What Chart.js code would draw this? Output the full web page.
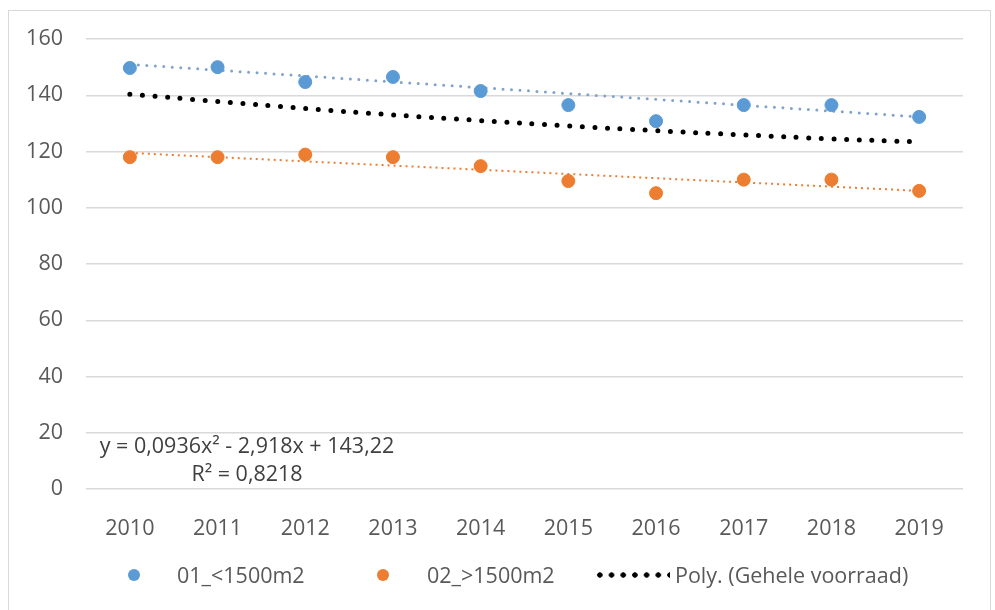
<!DOCTYPE html>
<html>
<head>
<meta charset="utf-8">
<script src="https://cdn.jsdelivr.net/npm/chart.js@4.4.1/dist/chart.umd.min.js"></script>
<style>
  html, body { margin: 0; padding: 0; background: #fff; }
  #wrap { position: relative; width: 995px; height: 610px; overflow: hidden; font-family: "Open Sans", sans-serif; }
  #frame { position: absolute; left: 8px; top: 10px; width: 981px; height: 640px; border: 1px solid #d9d9d9; }
  #myChart { position: absolute; left: 0; top: 0; }
  #legend { position: absolute; top: 561px; left: 0; height: 28px; font-size: 21.5px; color: #595959; }
  .item { position: absolute; top: 0; white-space: nowrap; line-height: 28px; }
  .dot { position: absolute; top: 8px; width: 12px; height: 12px; border-radius: 50%; }
  .poly { position: absolute; top: 11px; width: 76px; height: 6px;
          background: radial-gradient(circle, #000 2.4px, transparent 3px) repeat-x;
          background-size: 11.7px 6px; }
</style>
</head>
<body>
<div id="wrap">
  <div id="frame"></div>
  <canvas id="myChart" width="995" height="610"></canvas>
  <div id="legend">
    <div class="item" style="left:128px"><span class="dot" style="background:#5b9bd5"></span><span style="margin-left:49px">01_&lt;1500m2</span></div>
    <div class="item" style="left:377px"><span class="dot" style="background:#ed7d31"></span><span style="margin-left:50px">02_&gt;1500m2</span></div>
    <div class="item" style="left:594px"><span class="poly"></span><span style="margin-left:81px">Poly. (Gehele voorraad)</span></div>
  </div>
</div>
<script>
// years on the x axis
var years = ["2010", "2011", "2012", "2013", "2014", "2015", "2016", "2017", "2018", "2019"];
// measured series
var small = [149.7, 150.0, 144.7, 146.5, 141.5, 136.5, 130.8, 136.5, 136.5, 132.3];
var large = [118.0, 118.0, 118.9, 118.0, 114.8, 109.5, 105.2, 110.0, 110.0, 106.0];
// linear trend lines (start / end only)
var smallTrend = [151.0, null, null, null, null, null, null, null, null, 132.3];
var largeTrend = [119.5, null, null, null, null, null, null, null, null, 106.0];
// polynomial trend of the whole stock
var polyTrend = [140.4, 137.8, 135.3, 133.0, 131.0, 129.1, 127.4, 125.9, 124.5, 123.4];
var yTicks = [0, 20, 40, 60, 80, 100, 120, 140, 160];
var eqLine1 = "y = 0,0936x² - 2,918x + 143,22";
var eqLine2 = "R² = 0,8218";

var tickFont = { family: '"Open Sans", sans-serif', size: 21.5 };

var equation = {
    id: 'equation',
    afterDraw: function(chart) {
        var ctx = chart.ctx;
        ctx.save();
        ctx.font = '21.5px "Open Sans", sans-serif';
        ctx.fillStyle = '#404040';
        ctx.textAlign = 'center';
        ctx.textBaseline = 'middle';
        ctx.fillText(eqLine1, 247, 447);
        ctx.fillText(eqLine2, 247, 475);
        ctx.restore();
    }
};

var ctx = document.getElementById('myChart').getContext('2d');
var myChart = new Chart(ctx, {
    type: 'line',
    data: {
        labels: years,
        datasets: [
            {
                label: "Poly. (Gehele voorraad)",
                data: polyTrend,
                borderColor: "#000",
                borderWidth: 5,
                borderDash: [0, 12.6],
                borderCapStyle: 'round',
                pointRadius: 0,
                tension: 0.4,
                order: 3
            },
            {
                label: "trend small",
                data: smallTrend,
                spanGaps: true,
                borderColor: "#7fa3cc",
                borderWidth: 3,
                borderDash: [0, 8.5],
                borderCapStyle: 'round',
                pointRadius: 0,
                order: 2
            },
            {
                label: "trend large",
                data: largeTrend,
                spanGaps: true,
                borderColor: "#ed7d31",
                borderWidth: 2,
                borderDash: [2, 4],
                pointRadius: 0,
                order: 2
            },
            {
                label: "01_<1500m2",
                data: small,
                showLine: false,
                pointRadius: 6.5,
                pointBackgroundColor: "#5b9bd5",
                pointBorderColor: "#5b9bd5",
                order: 1
            },
            {
                label: "02_>1500m2",
                data: large,
                showLine: false,
                pointRadius: 6.5,
                pointBackgroundColor: "#ed7d31",
                pointBorderColor: "#ed7d31",
                order: 1
            }
        ]
    },
    options: {
        responsive: false,
        animation: false,
        events: [],
        layout: { padding: { top: 39, right: 32, left: 0, bottom: 0 } },
        plugins: { legend: { display: false }, tooltip: { enabled: false } },
        scales: {
            x: {
                offset: true,
                grid: { display: false },
                border: { display: false },
                ticks: { color: '#595959', font: tickFont, padding: 19, maxRotation: 0 },
                afterFit: function(scale) { scale.height = 121; }
            },
            y: {
                min: 0,
                max: 160,
                afterBuildTicks: function(scale) { scale.ticks = yTicks.map(function(v) { return { value: v }; }); },
                grid: { color: '#d9d9d9', lineWidth: 1.5, drawTicks: false },
                border: { display: false },
                ticks: { color: '#595959', font: tickFont, padding: 23 },
                afterFit: function(scale) { scale.width = 86; }
            }
        }
    },
    plugins: [equation]
});
</script>
</body>
</html>
